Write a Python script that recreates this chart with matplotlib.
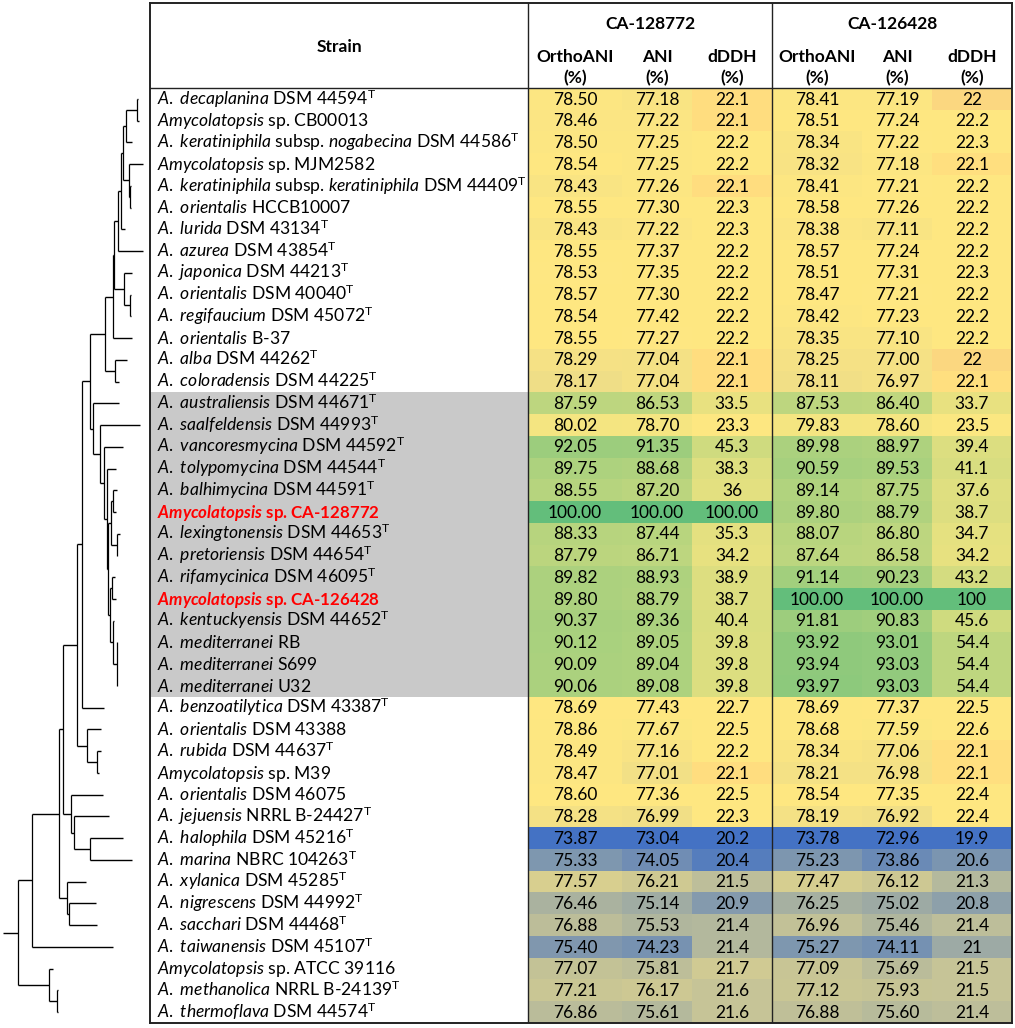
import re
import numpy as np
import matplotlib
matplotlib.use('Agg')
import matplotlib.pyplot as plt
from matplotlib.colors import LinearSegmentedColormap, TwoSlopeNorm
from matplotlib.patches import Rectangle

plt.rcParams['font.family'] = ['Lato', 'DejaVu Sans']
plt.rcParams['mathtext.fontset'] = 'custom'
plt.rcParams['mathtext.rm'] = 'Lato'
plt.rcParams['mathtext.it'] = 'Lato:italic'
plt.rcParams['mathtext.bf'] = 'Lato:bold'
plt.rcParams['mathtext.bfit'] = 'Lato:italic:bold'

# strain names, *...* = italic, ^T = type strain
strains = [
    "*A. decaplanina* DSM 44594^T",
    "*Amycolatopsis* sp. CB00013",
    "*A. keratiniphila* subsp. *nogabecina* DSM 44586^T",
    "*Amycolatopsis* sp. MJM2582",
    "*A. keratiniphila* subsp. *keratiniphila* DSM 44409^T",
    "*A. orientalis* HCCB10007",
    "*A. lurida* DSM 43134^T",
    "*A. azurea* DSM 43854^T",
    "*A. japonica* DSM 44213^T",
    "*A. orientalis* DSM 40040^T",
    "*A. regifaucium* DSM 45072^T",
    "*A. orientalis* B-37",
    "*A. alba* DSM 44262^T",
    "*A. coloradensis* DSM 44225^T",
    "*A. australiensis* DSM 44671^T",
    "*A. saalfeldensis* DSM 44993^T",
    "*A. vancoresmycina* DSM 44592^T",
    "*A. tolypomycina* DSM 44544^T",
    "*A. balhimycina* DSM 44591^T",
    "*Amycolatopsis* sp. CA-128772",
    "*A. lexingtonensis* DSM 44653^T",
    "*A. pretoriensis* DSM 44654^T",
    "*A. rifamycinica* DSM 46095^T",
    "*Amycolatopsis* sp. CA-126428",
    "*A. kentuckyensis* DSM 44652^T",
    "*A. mediterranei* RB",
    "*A. mediterranei* S699",
    "*A. mediterranei* U32",
    "*A. benzoatilytica* DSM 43387^T",
    "*A. orientalis* DSM 43388",
    "*A. rubida* DSM 44637^T",
    "*Amycolatopsis* sp. M39",
    "*A. orientalis* DSM 46075",
    "*A. jejuensis* NRRL B-24427^T",
    "*A. halophila* DSM 45216^T",
    "*A. marina* NBRC 104263^T",
    "*A. xylanica* DSM 45285^T",
    "*A. nigrescens* DSM 44992^T",
    "*A. sacchari* DSM 44468^T",
    "*A. taiwanensis* DSM 45107^T",
    "*Amycolatopsis* sp. ATCC 39116",
    "*A. methanolica* NRRL B-24139^T",
    "*A. thermoflava* DSM 44574^T",
]
queries = ["CA-128772", "CA-126428"]
clade_first, clade_last = 14, 27   # shaded group

orthoani_1 = """78.50 78.46 78.50 78.54 78.43 78.55 78.43 78.55 78.53 78.57 78.54 78.55 78.29 78.17
87.59 80.02 92.05 89.75 88.55 100.00 88.33 87.79 89.82 89.80 90.37 90.12 90.09 90.06
78.69 78.86 78.49 78.47 78.60 78.28 73.87 75.33 77.57 76.46 76.88 75.40 77.07 77.21 76.86""".split()
ani_1 = """77.18 77.22 77.25 77.25 77.26 77.30 77.22 77.37 77.35 77.30 77.42 77.27 77.04 77.04
86.53 78.70 91.35 88.68 87.20 100.00 87.44 86.71 88.93 88.79 89.36 89.05 89.04 89.08
77.43 77.67 77.16 77.01 77.36 76.99 73.04 74.05 76.21 75.14 75.53 74.23 75.81 76.17 75.61""".split()
dddh_1 = """22.1 22.1 22.2 22.2 22.1 22.3 22.3 22.2 22.2 22.2 22.2 22.2 22.1 22.1
33.5 23.3 45.3 38.3 36 100.00 35.3 34.2 38.9 38.7 40.4 39.8 39.8 39.8
22.7 22.5 22.2 22.1 22.5 22.3 20.2 20.4 21.5 20.9 21.4 21.4 21.7 21.6 21.6""".split()
orthoani_2 = """78.41 78.51 78.34 78.32 78.41 78.58 78.38 78.57 78.51 78.47 78.42 78.35 78.25 78.11
87.53 79.83 89.98 90.59 89.14 89.80 88.07 87.64 91.14 100.00 91.81 93.92 93.94 93.97
78.69 78.68 78.34 78.21 78.54 78.19 73.78 75.23 77.47 76.25 76.96 75.27 77.09 77.12 76.88""".split()
ani_2 = """77.19 77.24 77.22 77.18 77.21 77.26 77.11 77.24 77.31 77.21 77.23 77.10 77.00 76.97
86.40 78.60 88.97 89.53 87.75 88.79 86.80 86.58 90.23 100.00 90.83 93.01 93.03 93.03
77.37 77.59 77.06 76.98 77.35 76.92 72.96 73.86 76.12 75.02 75.46 74.11 75.69 75.93 75.60""".split()
dddh_2 = """22 22.2 22.3 22.1 22.2 22.2 22.2 22.2 22.3 22.2 22.2 22.2 22 22.1
33.7 23.5 39.4 41.1 37.6 38.7 34.7 34.2 43.2 100 45.6 54.4 54.4 54.4
22.5 22.6 22.1 22.1 22.4 22.4 19.9 20.6 21.3 20.8 21.4 21 21.5 21.5 21.4""".split()

groups = ["CA-128772", "CA-126428"]
metrics = ["OrthoANI\n(%)", "ANI\n(%)", "dDDH\n(%)"]

# tree, leaf names are row numbers, branch lengths x 1e-3
tree_newick = (
    "((((((((("
    "((((((0:1.0,1:2.0):11.3,2:6.0):3.0,(3:13.7,(4:1.0,5:1.0):1.0):6.3):2.0,6:4.3):2.4,7:24.4):4.0,"
    "(8:7.7,(9:1.0,10:1.0):6.0):9.7):1.0,11:18.4):8.3,(12:12.0,13:4.0):10.0):15.0,"
    "(14:26.0,(15:40.0,(16:18.7,(17:9.3,(((18:4.0,19:2.4):2.3,(20:3.3,21:0.3):5.7):3.0,"
    "((22:2.7,23:3.7):2.8,(24:0.7,(25:0.3,26:0.3,27:0.3):3.4):3.8):1.5):1.3):2.7):4.0):6.7):3.3"
    "):8.3,28:22.3):5.0,(29:13.7,(30:3.7,31:1.2):10.0):10.6):13.4,"
    "(32:32.0,(33:35.3,(34:32.7,35:41.7):16.0):3.3):7.4):4.0,"
    "(36:19.0,(37:26.4,38:28.0):2.6):7.4):27.6,39:81.6):13.4,"
    "(40:3.4,(41:0.4,42:0.4):8.0):31.0):15.0;"
)


def parse_newick(s):
    s = s.strip().rstrip(';')
    pos = 0

    def node():
        nonlocal pos
        kids = []
        if s[pos] == '(':
            pos += 1
            while True:
                kids.append(node())
                ch = s[pos]
                pos += 1
                if ch == ')':
                    break
        start = pos
        while pos < len(s) and s[pos] not in ',():':
            pos += 1
        name = s[start:pos]
        length = 0.0
        if pos < len(s) and s[pos] == ':':
            pos += 1
            start = pos
            while pos < len(s) and s[pos] not in ',()':
                pos += 1
            length = float(s[start:pos])
        return {'name': name, 'len': length * 1e-3, 'kids': kids}

    return node()


def to_mathtext(s, bold=False):
    cmd = r'\mathbfit' if bold else r'\mathit'

    def ital(m):
        return ' '.join('$' + cmd + '{' + w + '}$' for w in m.group(1).split(' '))

    s = re.sub(r'\*(.+?)\*', ital, s)
    return s.replace('^T', r'$^{\mathrm{T}}$')


W, H = 1015, 1028
fig = plt.figure(figsize=(W / 100, H / 100), dpi=100)
n = len(strains)
hdr = 3.91  # header height in rows
top_px, bot_px = 3, 1023
ax_b = 1 - bot_px / H
ax_h = (bot_px - top_px) / H

ax = fig.add_axes([150 / W, ax_b, 862 / W, ax_h])
tax = fig.add_axes([0, ax_b, 150 / W, ax_h])

# ---- table ----
blue, yellow, green = '#4472C4', '#FFE882', '#63BE7B'
cmap_ani = LinearSegmentedColormap.from_list('byg', [blue, yellow, green])
# dDDH scale gets an orange tint just under the median
cmap_ddh = LinearSegmentedColormap.from_list(
    'boyg', [(0, blue), (0.42, '#E1D58E'), (0.46, '#FFD87E'), (0.5, yellow), (1, green)])
cols = [orthoani_1, ani_1, dddh_1, orthoani_2, ani_2, dddh_2]
edges = [528, 622, 692, 772, 862, 932, 1012]
for j, col in enumerate(cols):
    v = np.array([float(t) for t in col])
    norm = TwoSlopeNorm(vcenter=np.median(v), vmin=v.min(), vmax=v.max())
    cmap = cmap_ddh if j % 3 == 2 else cmap_ani
    rgb = cmap(norm(v))[:, None, :]
    ax.imshow(rgb, extent=(edges[j], edges[j + 1], n, 0), aspect='auto', interpolation='nearest', zorder=1)
    xc = (edges[j] + edges[j + 1]) / 2
    for i, t in enumerate(col):
        ax.text(xc, i + 0.76, t, ha='center', va='baseline', fontsize=12.5, zorder=3)

ax.add_patch(Rectangle((150, clade_first), 528 - 150, clade_last - clade_first + 1,
                       facecolor='#c9c9c9', edgecolor='none', zorder=0))
for i, s in enumerate(strains):
    q = any(k in s for k in queries)
    ax.text(157, i + 0.76, to_mathtext(s, bold=q), ha='left', va='baseline',
            fontsize=12.2 if q else 12.6,
            color='red' if q else 'black', fontweight='bold' if q else 'normal', zorder=3)

# header
ax.text(339, -1.89, 'Strain', ha='center', va='center', fontsize=12.5, fontweight='bold')
for g, name in enumerate(groups):
    ax.text((edges[3 * g] + edges[3 * g + 3]) / 2, -2.95, name, ha='center', va='center',
            fontsize=12.5, fontweight='bold')
    for k, m in enumerate(metrics):
        xc = (edges[3 * g + k] + edges[3 * g + k + 1]) / 2
        a, b = m.split('\n')
        ax.text(xc, -1.43, a, ha='center', va='center', fontsize=12.5, fontweight='bold')
        ax.text(xc, -0.46, b, ha='center', va='center', fontsize=12.5, fontweight='bold')

ax.axhline(0, color='#222222', lw=1.0, zorder=4)
for xv in (528, 772):
    ax.axvline(xv, color='#222222', lw=1.0, zorder=4)
ax.set_xlim(150, 1012)
ax.set_ylim(n, -hdr)
ax.set_xticks([])
ax.set_yticks([])
for sp in ax.spines.values():
    sp.set_linewidth(1.4)
    sp.set_color('#222222')
    sp.set_zorder(5)

# ---- tree ----
root = parse_newick(tree_newick)


def draw(node, x0):
    x1 = x0 + node['len']
    if node['kids']:
        ys = [draw(k, x1) for k in node['kids']]
        y = (ys[0] + ys[-1]) / 2
        tax.plot([x1, x1], [ys[0], ys[-1]], color='black', lw=0.9, solid_capstyle='butt')
    else:
        y = int(node['name']) + 0.5
    tax.plot([x0, x1], [y, y], color='black', lw=1.0, solid_capstyle='butt')
    return y


draw(root, 0.0)
tax.set_xlim(-0.0033, 0.1467)
tax.set_ylim(n, -hdr)
tax.axis('off')

fig.savefig('out.png', dpi=100)
